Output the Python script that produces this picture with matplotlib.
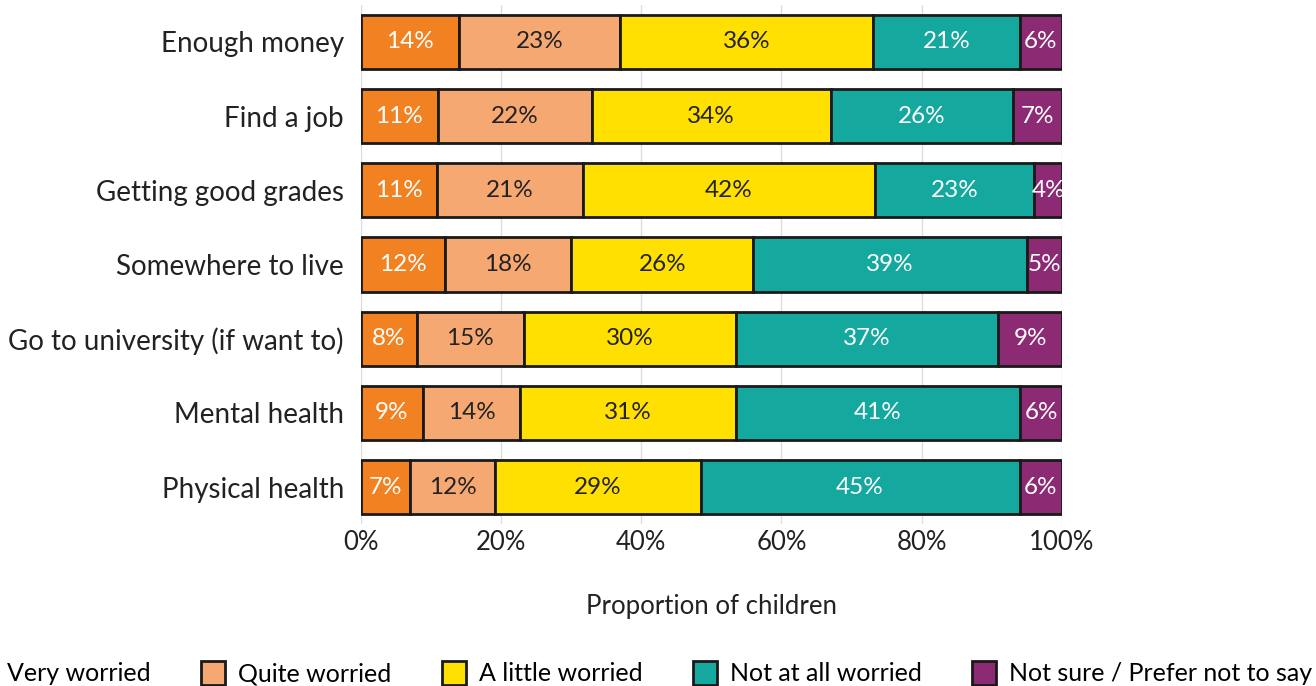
import numpy as np
import matplotlib
matplotlib.use("Agg")
from matplotlib import pyplot as plt

plt.rcParams['font.family'] = ['Lato', 'DejaVu Sans']

categories = ["Enough money", "Find a job", "Getting good grades", "Somewhere to live",
              "Go to university (if want to)", "Mental health", "Physical health"]
series = ["Very worried", "Quite worried", "A little worried", "Not at all worried",
          "Not sure / Prefer not to say"]
very = [14, 11, 11, 12, 8, 9, 7]
quite = [23, 22, 21, 18, 15, 14, 12]
little = [36, 34, 42, 26, 30, 31, 29]
not_at_all = [21, 26, 23, 39, 37, 41, 45]
not_sure = [6, 7, 4, 5, 9, 6, 6]

colors = ["#F28122", "#F6A872", "#FFE000", "#14A89E", "#8C2B74"]
text_colors = ["white", "#222222", "#222222", "white", "white"]

values = np.array([very, quite, little, not_at_all, not_sure], dtype=float)
# rounded shares don't always add to 100, stretch each row to full width
shares = values / values.sum(axis=0) * 100

fig = plt.figure(figsize=(13.16, 6.86), dpi=100)
ax = fig.add_axes([0.274, 0.236, 0.533, 0.757])

y = np.arange(len(categories))
left = np.zeros(len(categories))
for i, name in enumerate(series):
    ax.barh(y, shares[i], left=left, height=0.73, color=colors[i],
            edgecolor="#1a1a1a", linewidth=2, label=name, zorder=3)
    for j, v in enumerate(values[i]):
        ax.text(left[j] + shares[i][j] / 2, y[j], f"{int(v)}%", ha="center", va="center",
                color=text_colors[i], fontsize=17.5, zorder=4)
    left += shares[i]

ax.set_xlim(0, 100)
ax.set_ylim(len(categories) - 0.5, -0.5)
ax.set_yticks(y)
ax.set_yticklabels(categories, fontsize=20, color="#222222")
ax.set_xticks(np.arange(0, 101, 20))
ax.set_xticklabels([f"{t}%" for t in range(0, 101, 20)], fontsize=18.5, color="#222222")
ax.tick_params(axis="y", length=0, pad=12)
ax.tick_params(axis="x", length=0, pad=4)
ax.grid(axis="x", color="#dddddd", linewidth=1, zorder=0)
for s in ax.spines.values():
    s.set_visible(False)

ax.set_xlabel("Proportion of children", fontsize=18.5, color="#222222", labelpad=28)

handles, labels = ax.get_legend_handles_labels()
fig.legend(handles, labels, loc="lower left", bbox_to_anchor=(-0.040, -0.032), ncol=5,
           frameon=False, fontsize=18, handlelength=0.96, handleheight=1.15,
           handletextpad=0.52, columnspacing=2.02)

fig.savefig("out.png", dpi=100)
